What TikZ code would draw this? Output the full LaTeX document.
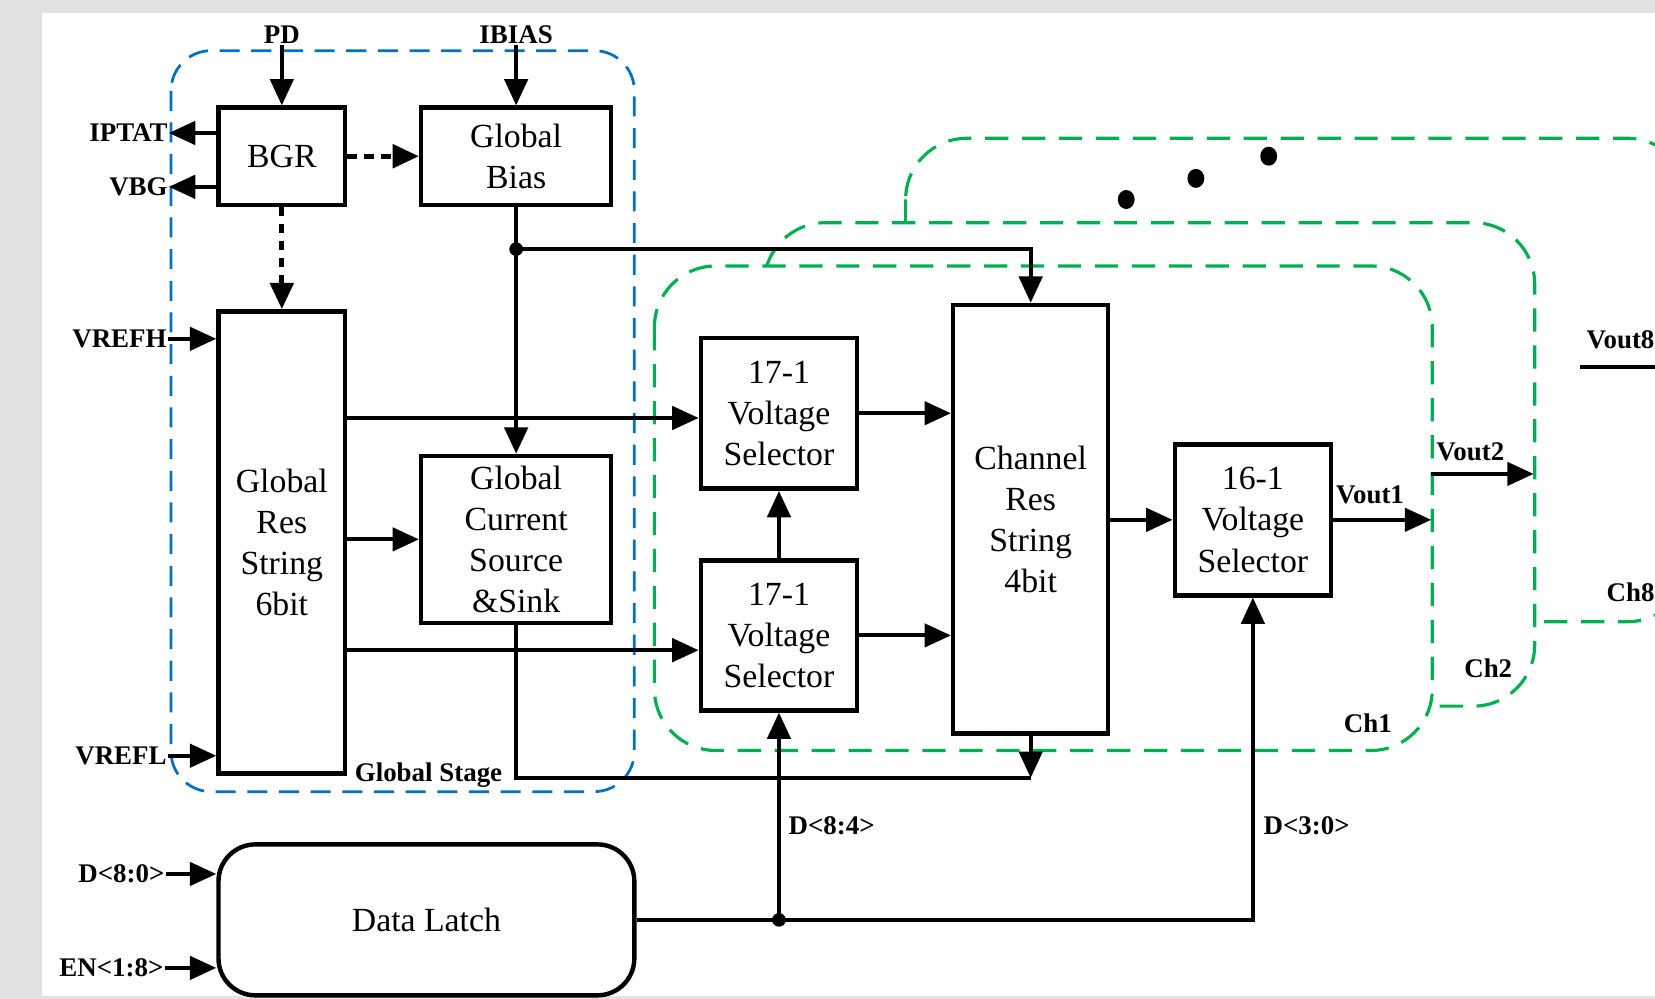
\documentclass[tikz,border=0pt]{standalone}
\usepackage{fontspec}
\setmainfont{Liberation Serif}
\usetikzlibrary{arrows.meta,calc}

\definecolor{stageblue}{RGB}{0,112,192}
\definecolor{changreen}{RGB}{0,176,80}
\definecolor{paper}{RGB}{226,226,226}

\tikzset{
  blk/.style={draw, line width=4.2pt, align=center, inner sep=0pt,
    font=\fontsize{32}{39}\selectfont},
  lbl/.style={font=\bfseries\fontsize{25.5}{28}\selectfont, inner sep=1pt},
  wire/.style={line width=3.8pt},
  arr/.style={wire, -{Triangle[length=25pt,width=22pt]}},
  dotarr/.style={line width=4.8pt, dash pattern=on 9pt off 7pt,
    -{Triangle[length=25pt,width=22pt]}},
  stage/.style={draw=stageblue, line width=2.6pt, dash pattern=on 19pt off 11pt,
    rounded corners=38pt},
  chan/.style={draw=changreen, line width=3pt, dash pattern=on 22pt off 13pt,
    rounded corners=58pt, fill=white},
  junct/.style={circle, fill, inner sep=0pt, minimum size=13pt},
}

\begin{document}
\begin{tikzpicture}[x=1pt,y=-1pt]
\useasboundingbox (0,0) rectangle (1568,946);
\clip (0,0) rectangle (1568,946);

% paper and sheet
\fill[paper] (0,0) rectangle (1568,946);
\fill[white] (40,12) rectangle (1568,944);

% global stage frame
\draw[stage] (162,48) rectangle (601,750);

% channel frames, back to front
\draw[chan] (858,131) rectangle (1600,589);
\draw[chan] (724,211) rectangle (1454,669);
\draw[chan] (620,252) rectangle (1357,711);

% ellipsis dots for the further channels
\fill (1067,189) ellipse (8pt and 9pt);
\fill (1133,169) ellipse (8pt and 9pt);
\fill (1202,148) ellipse (8pt and 9pt);

% blocks
\node[blk, minimum width=120pt, minimum height=92pt] (bgr) at (267,148) {BGR};
\node[blk, minimum width=180pt, minimum height=92pt] (gbias) at (489,148) {Global\\Bias};
\node[blk, minimum width=120pt, minimum height=438pt] (gres) at (267,514) {Global\\Res\\String\\6bit};
\node[blk, minimum width=180pt, minimum height=158pt] (gcs) at (489,511) {Global\\Current\\Source\\\&Sink};
\node[blk, minimum width=148pt, minimum height=143pt] (vs1) at (738,391.5) {17-1\\Voltage\\Selector};
\node[blk, minimum width=148pt, minimum height=142pt] (vs2) at (738,602) {17-1\\Voltage\\Selector};
\node[blk, minimum width=147pt, minimum height=406pt] (chres) at (976.5,492) {Channel\\Res\\String\\4bit};
\node[blk, minimum width=148pt, minimum height=143pt] (vs16) at (1187,492.5) {16-1\\Voltage\\Selector};
\node[blk, rounded corners=35pt, minimum width=394pt, minimum height=143pt] (latch) at (404,871.5) {Data Latch};

% signal labels
\node[lbl] (pd) at (267,33) {PD};
\node[lbl] (ibias) at (489,33) {IBIAS};
\node[lbl, anchor=east] (iptat) at (160,126) {IPTAT};
\node[lbl, anchor=east] (vbg) at (160,177) {VBG};
\node[lbl, anchor=east] (vrefh) at (159,321) {VREFH};
\node[lbl, anchor=east] (vrefl) at (159,716) {VREFL};
\node[lbl, anchor=east] (d80) at (157,828) {D<8:0>};
\node[lbl, anchor=east] (en) at (156,917) {EN<1:8>};
\node[lbl, anchor=west] (gstage) at (335,734) {Global Stage};
\node[lbl, anchor=west] (d84) at (746,782) {D<8:4>};
\node[lbl, anchor=west] (d30) at (1196,782) {D<3:0>};
\node[lbl] (vout1) at (1298,469) {Vout1};
\node[lbl] (vout2) at (1393,428) {Vout2};
\node[lbl, anchor=west] (vout8) at (1502,322) {Vout8};
\node[lbl] (ch1) at (1296,685) {Ch1};
\node[lbl] (ch2) at (1410,633) {Ch2};
\node[lbl, anchor=west] (ch8) at (1521,561) {Ch8};

% helper points
\coordinate (jb) at (gbias.south |- 0,236);
\coordinate (jl) at (vs2.south |- latch.east);
\coordinate (gl) at (chres.south |- 0,737);
\coordinate (o1) at (1356,492.5);
\coordinate (o2s) at (1356,449);
\coordinate (o2e) at (1453,449);
\coordinate (o8s) at (1497,348);
\coordinate (o8e) at (1590,348);

% inputs and outputs of the global stage
\draw[arr] (pd.south) -- (bgr.north);
\draw[arr] (ibias.south) -- (gbias.north);
\draw[arr] (bgr.west |- iptat.east) -- (iptat.east);
\draw[arr] (bgr.west |- vbg.east) -- (vbg.east);
\draw[arr] (vrefh.east) -- (vrefh.east -| gres.west);
\draw[arr] (vrefl.east) -- (vrefl.east -| gres.west);
\draw[dotarr] (bgr.east) -- (gbias.west);
\draw[dotarr] (bgr.south) -- (gres.north);

% bias distribution
\draw[arr] (gbias.south) -- (gcs.north);
\draw[arr] (jb) -| (chres.north);
\node[junct] at (jb) {};
\draw[arr] (gres.east |- gcs.west) -- (gcs.west);
\draw[arr] (gres.east |- 0,396) -- (vs1.west |- 0,396);
\draw[arr] (gres.east |- 0,616) -- (vs2.west |- 0,616);
\draw[wire] (gcs.south) |- (gl);
\draw[arr] (chres.south) -- (gl);

% channel path
\draw[arr] (vs2.north) -- (vs1.south);
\draw[arr] (vs1.east) -- (vs1.east -| chres.west);
\draw[arr] (vs2.east) -- (vs2.east -| chres.west);
\draw[arr] (chres.east |- vs16.west) -- (vs16.west);
\draw[arr] (vs16.east) -- (o1);
\draw[arr] (o2s) -- (o2e);
\draw[wire] (o8s) -- (o8e);

% data latch and code buses
\draw[arr] (d80.east) -- (d80.east -| latch.west);
\draw[arr] (en.east) -- (en.east -| latch.west);
\draw[arr] (latch.east) -| (vs16.south);
\draw[arr] (jl) -- (vs2.south);
\node[junct] at (jl) {};
\end{tikzpicture}
\end{document}
